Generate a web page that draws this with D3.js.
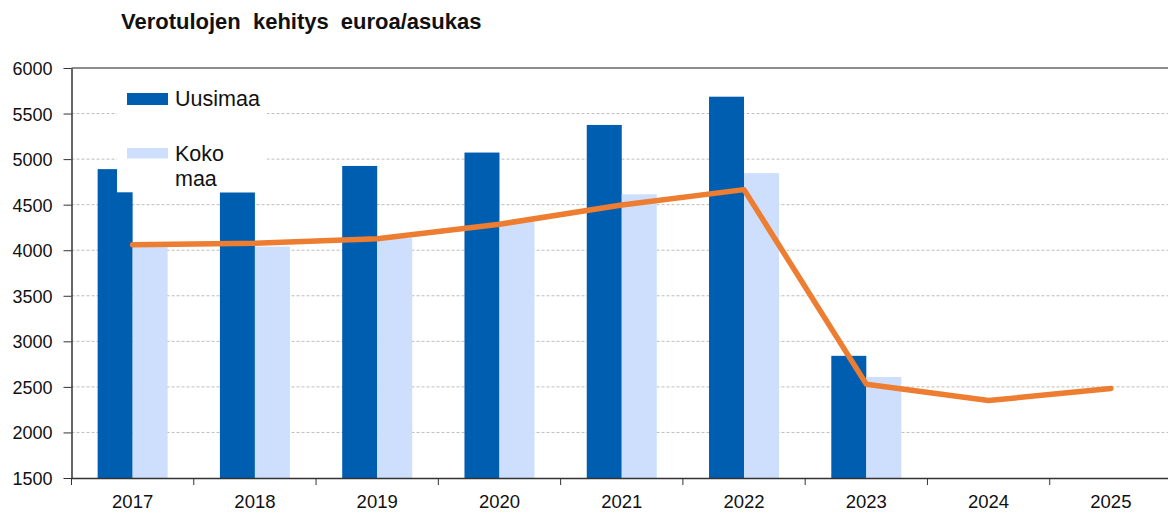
<!DOCTYPE html>
<html>
<head>
<meta charset="utf-8">
<script src="https://cdn.jsdelivr.net/npm/d3@7"></script>
<style>
  html, body { margin: 0; padding: 0; background: #fff; }
  svg { display: block; font-family: "Liberation Sans", Arial, sans-serif; }
</style>
</head>
<body>
<svg id="chart" width="1168" height="513"></svg>
<script>
const years = ["2017","2018","2019","2020","2021","2022","2023","2024","2025"];
const uusimaa = [4890, 4636, 4925, 5072, 5375, 5685, 2841, null, null];
const kokoMaa = [4035, 4040, 4132, 4322, 4614, 4846, 2608, null, null];
const lineValues = [4060, 4077, 4125, 4285, 4497, 4665, 2530, 2350, 2482];
const yTicks = [1500, 2000, 2500, 3000, 3500, 4000, 4500, 5000, 5500, 6000];
const seriesNames = ["Uusimaa", "Koko maa"];
const title = "Verotulojen kehitys euroa/asukas";

(function () {
const colDark = "#005EB0";
const colLight = "#CDDFFD";
const colLine = "#ED7D31";

const svg = d3.select("#chart");
const mLeft = 71.5, mRight = 1172, mTop = 68, mBottom = 478;

const x = d3.scaleBand().domain(years).range([mLeft, mRight]).paddingInner(0).paddingOuter(0);
const y = d3.scaleLinear().domain([1500, 6000]).range([mBottom, mTop]);

// gridlines
svg.append("g").selectAll("line").data(yTicks.filter(t => t > 1500 && t < 6000)).join("line")
  .attr("x1", mLeft).attr("x2", 1168)
  .attr("y1", d => y(d)).attr("y2", d => y(d))
  .attr("stroke", "#BDBDBD").attr("stroke-width", 1).attr("stroke-dasharray", "3,2");
// top border
svg.append("line").attr("x1", mLeft).attr("x2", 1168).attr("y1", y(6000)).attr("y2", y(6000))
  .attr("stroke", "#8C8C8C").attr("stroke-width", 2);

// bars
const barW = 35;
const groupW = barW * 2;
const off = (x.bandwidth() - groupW) / 2;
const bars = svg.append("g");
bars.selectAll("rect.u").data(years.map((yr, i) => ({yr, v: uusimaa[i]})).filter(d => d.v != null)).join("rect")
  .attr("class", "u")
  .attr("x", d => x(d.yr) + off)
  .attr("y", d => y(d.v))
  .attr("width", barW)
  .attr("height", d => y(1500) - y(d.v))
  .attr("fill", colDark);
bars.selectAll("rect.k").data(years.map((yr, i) => ({yr, v: kokoMaa[i]})).filter(d => d.v != null)).join("rect")
  .attr("class", "k")
  .attr("x", d => x(d.yr) + off + barW)
  .attr("y", d => y(d.v))
  .attr("width", barW)
  .attr("height", d => y(1500) - y(d.v))
  .attr("fill", colLight);

// legend background box
svg.append("rect").attr("x", 117).attr("y", 72).attr("width", 150).attr("height", 120.3).attr("fill", "#fff");

// line
const line = d3.line().x((d, i) => x(years[i]) + x.bandwidth() / 2).y(d => y(d));
svg.append("path").datum(lineValues)
  .attr("d", line)
  .attr("fill", "none").attr("stroke", colLine).attr("stroke-width", 5.5)
  .attr("stroke-linejoin", "round").attr("stroke-linecap", "round");

// y axis
const yAxis = d3.axisLeft(y).tickValues(yTicks).tickSize(8).tickSizeOuter(0).tickFormat(d3.format("d"));
const gy = svg.append("g").attr("transform", `translate(${mLeft},0)`).call(yAxis);
gy.select(".domain").attr("stroke", "#333").attr("stroke-width", 1.5);
gy.selectAll(".tick line").attr("stroke", "#333");
gy.selectAll(".tick text").attr("font-size", 18).attr("fill", "#111").attr("x", -19).attr("dy", "0.36em")
  .attr("font-family", "Liberation Sans, Arial, sans-serif");

// x axis
const xAxis = d3.axisBottom(x).tickSize(0).tickSizeOuter(0);
const gx = svg.append("g").attr("transform", `translate(0,${mBottom})`).call(xAxis);
gx.select(".domain").attr("stroke", "#333").attr("stroke-width", 1.5);
gx.selectAll(".tick text").attr("font-size", 18.5).attr("fill", "#111").attr("dy", 0).attr("y", 30)
  .attr("font-family", "Liberation Sans, Arial, sans-serif");
// x tick marks at category boundaries
svg.append("g").selectAll("line").data(years).join("line")
  .attr("x1", d => x(d)).attr("x2", d => x(d))
  .attr("y1", mBottom).attr("y2", mBottom + 7)
  .attr("stroke", "#333").attr("stroke-width", 1);

// title
svg.append("text").attr("x", 121).attr("y", 29).text(title)
  .attr("font-size", 22).attr("font-weight", "bold").attr("fill", "#111").attr("word-spacing", 6);

// legend
const lg = svg.append("g");
lg.append("rect").attr("x", 127).attr("y", 93).attr("width", 41).attr("height", 12).attr("fill", colDark);
lg.append("text").attr("x", 175).attr("y", 106).text(seriesNames[0]).attr("font-size", 21.5).attr("fill", "#111");
lg.append("rect").attr("x", 127).attr("y", 148).attr("width", 41).attr("height", 10.5).attr("fill", colLight);
const t2 = lg.append("text").attr("x", 175).attr("y", 161).attr("font-size", 21.5).attr("fill", "#111");
t2.append("tspan").attr("x", 175).text(seriesNames[1].split(" ")[0]);
t2.append("tspan").attr("x", 175).attr("dy", 25).text(seriesNames[1].split(" ")[1]);
})();
</script>
</body>
</html>
